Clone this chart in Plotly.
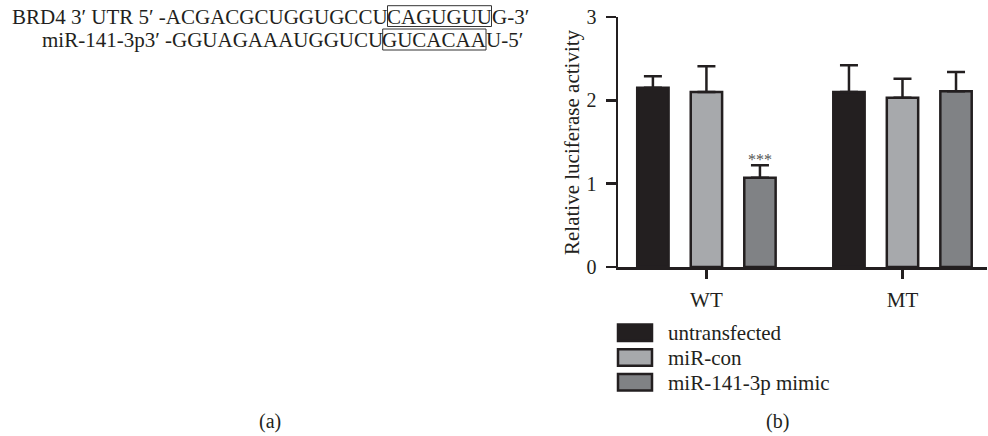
import plotly.graph_objects as go

W, H = 988, 436

groups = ["WT", "MT"]
series_names = ["untransfected", "miR-con", "miR-141-3p mimic"]
series_colors = ["#231f20", "#a7a9ac", "#808285"]
values = {
    "untransfected": [2.15, 2.10],
    "miR-con": [2.10, 2.03],
    "miR-141-3p mimic": [1.07, 2.11],
}
err_upper = {
    "untransfected": [0.14, 0.32],
    "miR-con": [0.31, 0.23],
    "miR-141-3p mimic": [0.15, 0.23],
}
y_ticks = [0, 1, 2, 3]
sig_label = "***"
sig_group = "WT"
sig_series = "miR-141-3p mimic"

seq1 = ["BRD4 3\u2032 UTR 5\u2032 -ACGACGCUGGUGCCU", "CAGUGUU", "G-3\u2032"]
seq2 = ["miR-141-3p3\u2032 -GGUAGAAAUGGUCU", "GUCACAA", "U-5\u2032"]
panel_labels = ["(a)", "(b)"]

FONT = "Liberation Serif"
DARK = "#231f20"


def px(x):
    return x / W


def py(y):
    return 1 - y / H


fig = go.Figure()
bw = 0.16
step = 0.273
for i, name in enumerate(series_names):
    fig.add_trace(go.Bar(
        x=groups, y=values[name], name=name,
        width=bw, offset=(i - 1) * step - bw / 2,
        marker=dict(color=series_colors[i], line=dict(color=DARK, width=2.5)),
        error_y=dict(type="data", symmetric=False, array=err_upper[name],
                     arrayminus=[0] * len(groups), color=DARK, thickness=2.5, width=9),
        showlegend=False,
    ))

# significance marker
si = series_names.index(sig_series)
gi = groups.index(sig_group)
fig.add_annotation(x=gi + (si - 1) * step, xref="x", y=values[sig_series][gi] + err_upper[sig_series][gi],
                   yref="y", text=sig_label, showarrow=False, xanchor="center", yanchor="middle", yshift=6,
                   font=dict(family=FONT, size=16, color="#555555"))

fig.update_layout(
    width=W, height=H, barmode="overlay",
    margin=dict(l=0, r=0, t=0, b=0, pad=0, autoexpand=False),
    paper_bgcolor="white", plot_bgcolor="white",
    font=dict(family=FONT, size=21, color=DARK),
    xaxis=dict(domain=[px(618), px(987)], type="category", range=[-0.451, 1.431],
               automargin=False, ticklabeloverflow="allow",
               showline=True, linecolor=DARK, linewidth=2.5,
               ticks="outside", ticklen=9, tickwidth=2.5, tickcolor=DARK,
               ticklabelstandoff=3, showgrid=False, zeroline=False,
               tickfont=dict(family=FONT, size=21, color=DARK)),
    yaxis=dict(domain=[py(267), py(17)], range=[0, 3], tickvals=y_ticks,
               automargin=False, ticklabeloverflow="allow",
               showline=True, linecolor=DARK, linewidth=2.5,
               ticks="outside", ticklen=10, tickwidth=2.5, tickcolor=DARK,
               ticklabelstandoff=5, showgrid=False, zeroline=False,
               tickfont=dict(family=FONT, size=20, color=DARK)),
)

# y-axis title
fig.add_annotation(x=px(572), y=py(142), xref="paper", yref="paper", text="Relative luciferase activity",
                   textangle=-90, showarrow=False, xanchor="center", yanchor="middle",
                   font=dict(family=FONT, size=21, color=DARK))

# manual legend
for i, name in enumerate(series_names):
    top = 324.5 + i * 24.8
    fig.add_shape(type="rect", xref="paper", yref="paper",
                  x0=px(618), x1=px(652), y0=py(top), y1=py(top + 16.5),
                  fillcolor=series_colors[i], line=dict(color=DARK, width=2.5))
    fig.add_annotation(x=px(666), y=py(top + 8.5), xref="paper", yref="paper", text=name,
                       xanchor="left", yanchor="middle", showarrow=False,
                       font=dict(family=FONT, size=21, color=DARK))

# sequences with boxed seed region
for parts, (bx0, bx1, by0, by1) in [(seq1, (387.5, 491.5, 5.7, 26.5)), (seq2, (382.7, 486.0, 29.0, 50.0))]:
    cy = (by0 + by1) / 2 + 1
    fig.add_shape(type="rect", xref="paper", yref="paper", x0=px(bx0), x1=px(bx1),
                  y0=py(by1), y1=py(by0), line=dict(color="#333", width=1))
    fig.add_annotation(x=px(bx0), y=py(cy), xref="paper", yref="paper", text=parts[0],
                       xanchor="right", yanchor="middle", showarrow=False, borderpad=0, xshift=1,
                       font=dict(family=FONT, size=21, color=DARK))
    fig.add_annotation(x=px((bx0 + bx1) / 2), y=py(cy), xref="paper", yref="paper", text=parts[1],
                       xanchor="center", yanchor="middle", showarrow=False, borderpad=0,
                       font=dict(family=FONT, size=21, color=DARK))
    fig.add_annotation(x=px(bx1), y=py(cy), xref="paper", yref="paper", text=parts[2],
                       xanchor="left", yanchor="middle", showarrow=False, borderpad=0, xshift=-1,
                       font=dict(family=FONT, size=21, color=DARK))

# panel labels
fig.add_annotation(x=px(270), y=py(421), xref="paper", yref="paper", text=panel_labels[0],
                   xanchor="center", yanchor="middle",
                   showarrow=False, font=dict(family=FONT, size=20, color=DARK))
fig.add_annotation(x=px(777), y=py(421), xref="paper", yref="paper", text=panel_labels[1],
                   xanchor="center", yanchor="middle",
                   showarrow=False, font=dict(family=FONT, size=20, color=DARK))

fig.write_html("out.html", config={"displayModeBar": False, "staticPlot": True},
               post_script="document.body.style.margin='0px';document.body.style.overflow='hidden';")
